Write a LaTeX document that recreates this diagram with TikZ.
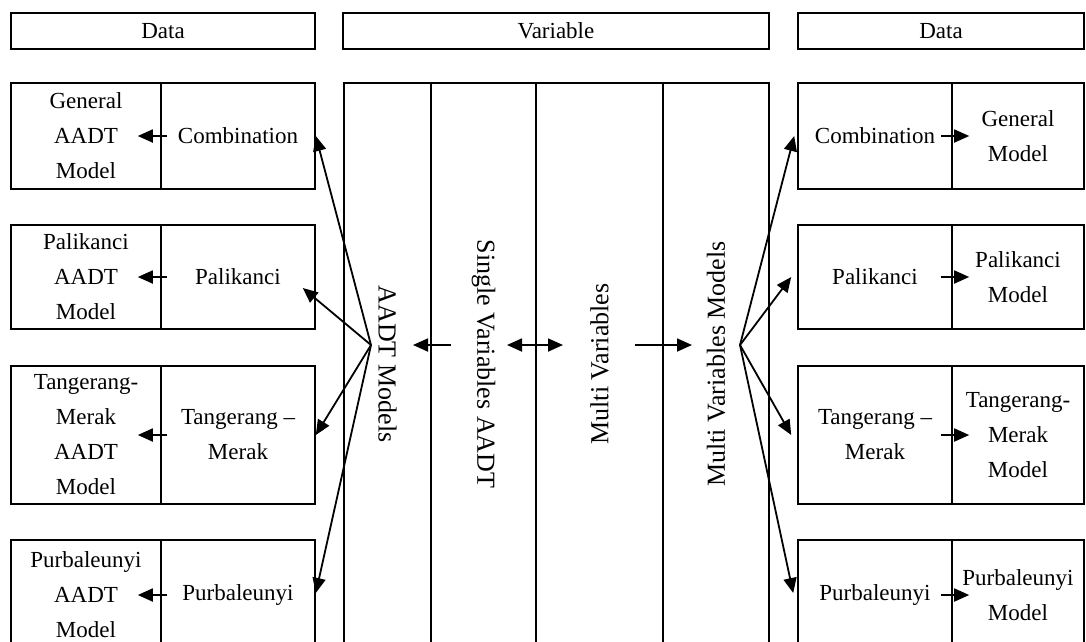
\documentclass[tikz,border=0pt]{standalone}
\usepackage{fontspec}
\setmainfont{Liberation Serif}
\usetikzlibrary{arrows.meta,calc}

\begin{document}
\begin{tikzpicture}[x=1pt,y=-1pt,>={Triangle[length=15pt,width=13pt]},
 cell/.style={draw,line width=1.6pt,inner sep=0pt,align=center,font=\fontsize{23}{35}\selectfont},
 head/.style={draw,line width=1.6pt,minimum height=36pt,inner sep=0pt,font=\fontsize{23}{25}\selectfont},
 col/.style={draw,line width=1.6pt,minimum width=562pt,inner sep=0pt,font=\fontsize{26}{28}\selectfont},
 link/.style={->,line width=1.8pt}]
\useasboundingbox (0,0) rectangle (1086,641);
\clip (0,0) rectangle (1086,641);
\node[head,minimum width=304pt] (hdl) at (163,31) {Data};
\node[head,minimum width=426pt] (hvar) at (556,31) {Variable};
\node[head,minimum width=286pt] (hdr) at (941,31) {Data};
% the four variable columns, text turned along the column
\node[col,rotate=-90,minimum height=87pt] (c1) at (387.5,364) {AADT Models};
\node[col,rotate=-90,minimum height=105pt] (c2) at (483.5,364) {Single Variables AADT};
\node[col,rotate=90,minimum height=127pt] (c3) at (599.5,364) {Multi Variables};
\node[col,rotate=90,minimum height=106pt] (c4) at (716,364) {Multi Variables Models};
\foreach \i/\y/\h/\lm/\d/\rm in {1/136/106/General\\AADT\\Model/Combination/General\\Model,
 2/277/104/Palikanci\\AADT\\Model/Palikanci/Palikanci\\Model,
 3/435/138/Tangerang-\\Merak\\AADT\\Model/Tangerang --\\Merak/Tangerang-\\Merak\\Model,
 4/595/110/Purbaleunyi\\AADT\\Model/Purbaleunyi/Purbaleunyi\\Model}{
 \node[cell,minimum width=150pt,minimum height=\h pt] (lm\i) at (86,\y) {\lm};
 \node[cell,minimum width=154pt,minimum height=\h pt] (ld\i) at (238,\y) {\d};
 \node[cell,minimum width=154pt,minimum height=\h pt] (rd\i) at (875,\y) {\d};
 \node[cell,minimum width=132pt,minimum height=\h pt] (rm\i) at (1018,\y) {\rm};
 \draw[link] ($(ld\i.west)+(7,0)$) -- ($(lm\i.east)+(-24,0)$);
 \draw[link] ($(rd\i.east)+(-12,0)$) -- ($(rm\i.west)+(18,0)$);
}
\coordinate (lhub) at (371,345);
\coordinate (rhub) at (740,345);
\draw[link] (lhub) -- (ld1.east);
\draw[link] (lhub) -- ($(ld2.east)+(-13,11)$);
\draw[link] (lhub) -- (ld3.east);
\draw[link] (lhub) -- ($(ld4.east)+(0,-2)$);
\draw[link] (rhub) -- ($(rd1.west)+(-3,0)$);
\draw[link] (rhub) -- ($(rd2.west)+(-6,0)$);
\draw[link] (rhub) -- ($(rd3.west)+(-6,0)$);
\draw[link] (rhub) -- ($(rd4.west)+(-4,-2)$);
\coordinate (m1) at (451,345);
\coordinate (m2) at (413,345);
\coordinate (m3) at (507,345);
\coordinate (m4) at (563,345);
\coordinate (m5) at (635,345);
\coordinate (m6) at (692,345);
\draw[link] (m1) -- (m2);
\draw[link,<->] (m3) -- (m4);
\draw[link] (m5) -- (m6);
\end{tikzpicture}
\end{document}
